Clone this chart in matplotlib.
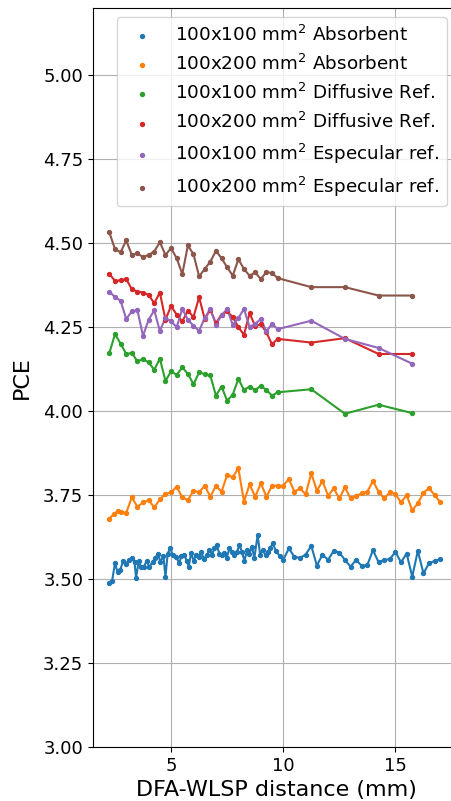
import matplotlib
matplotlib.use('Agg')
import matplotlib.pyplot as plt

# --- data ---
x_abs_100 = [2.25, 2.37, 2.50, 2.62, 2.73, 2.87, 2.99, 3.11, 3.25, 3.37, 3.44, 3.56, 3.66, 3.78,
             3.92, 4.03, 4.18, 4.30, 4.41, 4.52, 4.66, 4.75, 4.85, 4.97, 5.07, 5.22, 5.37, 5.45,
             5.59, 5.70, 5.79, 5.89, 6.01, 6.11, 6.23, 6.34, 6.46, 6.59, 6.71, 6.83, 6.93, 7.04,
             7.15, 7.27, 7.38, 7.48, 7.60, 7.72, 7.82, 7.94, 8.05, 8.16, 8.27, 8.39, 8.49, 8.61,
             8.71, 8.86, 8.97, 9.09, 9.21, 9.31, 9.41, 9.53, 9.68, 9.85, 10.0, 10.25, 10.5, 10.75,
             11.0, 11.25, 11.5, 11.75, 12.0, 12.25, 12.5, 12.75, 13.0, 13.25, 13.5, 13.75, 14.0,
             14.25, 14.5, 14.75, 15.0, 15.25, 15.5, 15.75, 16.0, 16.25, 16.5, 16.75, 17.0]
y_abs_100 = [3.487, 3.494, 3.547, 3.520, 3.527, 3.554, 3.544, 3.557, 3.563, 3.550, 3.504, 3.554,
             3.535, 3.537, 3.554, 3.535, 3.552, 3.562, 3.576, 3.552, 3.568, 3.507, 3.576, 3.593,
             3.571, 3.566, 3.547, 3.569, 3.573, 3.554, 3.537, 3.578, 3.554, 3.571, 3.566, 3.581,
             3.560, 3.571, 3.586, 3.573, 3.591, 3.601, 3.576, 3.573, 3.579, 3.563, 3.591, 3.581,
             3.571, 3.581, 3.601, 3.581, 3.554, 3.586, 3.576, 3.596, 3.562, 3.631, 3.573, 3.586,
             3.571, 3.581, 3.591, 3.606, 3.583, 3.568, 3.557, 3.591, 3.566, 3.563, 3.573, 3.599,
             3.540, 3.573, 3.557, 3.584, 3.579, 3.557, 3.537, 3.557, 3.539, 3.542, 3.586, 3.550,
             3.557, 3.559, 3.581, 3.550, 3.576, 3.507, 3.584, 3.517, 3.547, 3.554, 3.559]

x_abs_200 = [2.25, 2.47, 2.62, 2.77, 3.0, 3.25, 3.5, 3.75, 4.0, 4.25, 4.5, 4.75, 5.0, 5.25, 5.5,
             5.75, 6.0, 6.25, 6.5, 6.75, 7.0, 7.25, 7.5, 7.75, 8.0, 8.25, 8.5, 8.75, 9.0, 9.25,
             9.5, 9.75, 10.0, 10.25, 10.5, 10.75, 11.0, 11.25, 11.5, 11.75, 12.0, 12.25, 12.5,
             12.75, 13.0, 13.25, 13.5, 13.75, 14.0, 14.25, 14.5, 14.75, 15.0, 15.25, 15.5, 15.75,
             16.0, 16.25, 16.5, 16.75, 17.0]
y_abs_200 = [3.680, 3.695, 3.702, 3.700, 3.697, 3.743, 3.715, 3.728, 3.735, 3.713, 3.737, 3.753,
             3.758, 3.775, 3.743, 3.735, 3.763, 3.758, 3.778, 3.745, 3.778, 3.760, 3.810, 3.803,
             3.830, 3.730, 3.782, 3.745, 3.785, 3.745, 3.778, 3.778, 3.778, 3.798, 3.760, 3.770,
             3.752, 3.815, 3.763, 3.792, 3.748, 3.770, 3.740, 3.773, 3.740, 3.748, 3.755, 3.760,
             3.792, 3.760, 3.740, 3.758, 3.753, 3.728, 3.750, 3.705, 3.725, 3.757, 3.770, 3.750,
             3.729]

# the four reflector series share the same distances
x_ref = [2.25, 2.5, 2.75, 3.0, 3.25, 3.5, 3.75, 4.0, 4.25, 4.5, 4.75, 5.0, 5.25, 5.5, 5.75,
         6.0, 6.25, 6.5, 6.75, 7.0, 7.25, 7.5, 7.75, 8.0, 8.25, 8.5, 8.75, 9.0, 9.25, 9.5,
         9.75, 11.25, 12.75, 14.25, 15.75]
y_dif_100 = [4.173, 4.229, 4.201, 4.170, 4.173, 4.148, 4.155, 4.145, 4.123, 4.156, 4.090, 4.118,
             4.108, 4.130, 4.111, 4.080, 4.115, 4.110, 4.106, 4.046, 4.073, 4.031, 4.049, 4.096,
             4.063, 4.073, 4.063, 4.075, 4.063, 4.046, 4.056, 4.065, 3.992, 4.019, 3.994]
y_dif_200 = [4.408, 4.388, 4.389, 4.393, 4.363, 4.356, 4.353, 4.346, 4.321, 4.353, 4.272, 4.313,
             4.287, 4.267, 4.299, 4.280, 4.339, 4.274, 4.302, 4.262, 4.287, 4.297, 4.280, 4.250,
             4.227, 4.292, 4.252, 4.259, 4.234, 4.199, 4.215, 4.204, 4.217, 4.170, 4.170]
y_spe_100 = [4.356, 4.339, 4.329, 4.274, 4.297, 4.300, 4.224, 4.272, 4.300, 4.239, 4.277, 4.267,
             4.250, 4.304, 4.272, 4.254, 4.239, 4.277, 4.304, 4.257, 4.285, 4.304, 4.257, 4.277,
             4.304, 4.250, 4.260, 4.274, 4.237, 4.260, 4.244, 4.269, 4.215, 4.188, 4.141]
y_spe_200 = [4.532, 4.482, 4.473, 4.508, 4.465, 4.470, 4.458, 4.465, 4.475, 4.503, 4.465, 4.485,
             4.455, 4.408, 4.493, 4.467, 4.401, 4.423, 4.445, 4.477, 4.455, 4.428, 4.403, 4.452,
             4.423, 4.403, 4.413, 4.393, 4.414, 4.411, 4.396, 4.369, 4.369, 4.344, 4.344]

labels = ['100x100 mm$^2$ Absorbent', '100x200 mm$^2$ Absorbent',
          '100x100 mm$^2$ Diffusive Ref.', '100x200 mm$^2$ Diffusive Ref.',
          '100x100 mm$^2$ Especular ref.', '100x200 mm$^2$ Especular ref.']

series = [(x_abs_100, y_abs_100), (x_abs_200, y_abs_200), (x_ref, y_dif_100),
          (x_ref, y_dif_200), (x_ref, y_spe_100), (x_ref, y_spe_200)]

fig = plt.figure(figsize=(4.52, 8.01), dpi=100)
# right edge of the axes runs past the figure (cropped in the original)
ax = fig.add_axes([93 / 452, 54 / 801, 367 / 452, 739 / 801])

for i, (xs, ys) in enumerate(series):
    c = 'C%d' % i
    ax.scatter(xs, ys, s=8, color=c, label=labels[i], zorder=3)
    ax.plot(xs, ys, color=c, linewidth=1.5)

ax.set_xlim(1.52, 17.88)
ax.set_ylim(3.0, 5.2)
ax.set_yticks([3.0, 3.25, 3.5, 3.75, 4.0, 4.25, 4.5, 4.75, 5.0])
ax.set_xticks([5, 10, 15])
ax.tick_params(labelsize=13)
ax.grid(True)
ax.set_xlabel('DFA-WLSP distance (mm)', fontsize=16)
ax.set_ylabel('PCE', fontsize=16, labelpad=8)
ax.legend(loc='upper right', fontsize=13.2, bbox_to_anchor=(0.989, 1.0))

fig.savefig('out.png', dpi=100)
